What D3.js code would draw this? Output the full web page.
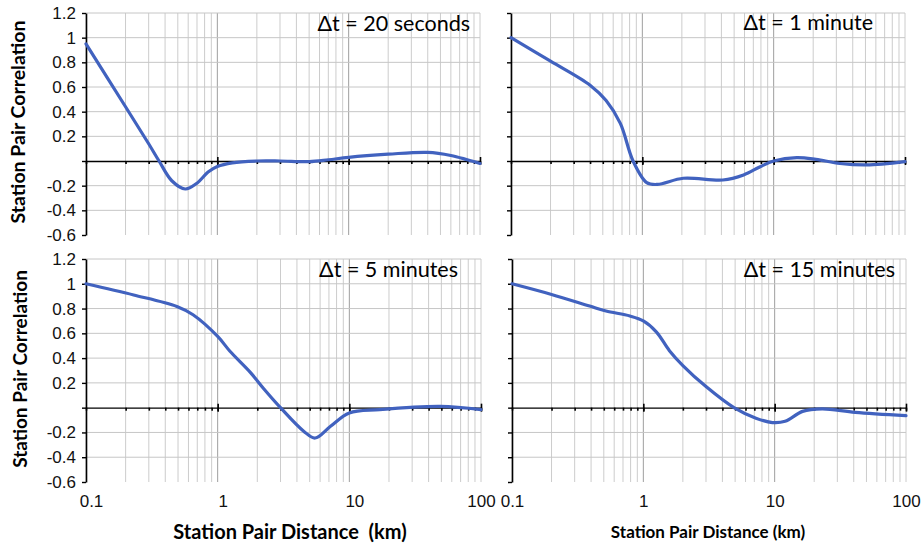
<!DOCTYPE html>
<html>
<head>
<meta charset="utf-8">
<script src="https://cdn.jsdelivr.net/npm/d3@7"></script>
<style>
  body { margin: 0; background: #fff; }
  svg { display: block; font-family: Lato, "Open Sans", sans-serif; }
</style>
</head>
<body>
<svg id="chart" width="922" height="543"></svg>
<script>
// tick values and labels
const X_TICKS = [0.1, 1, 10, 100];
const X_TICK_LABELS = ["0.1", "1", "10", "100"];
const Y_TICKS = [-0.6, -0.4, -0.2, 0, 0.2, 0.4, 0.6, 0.8, 1, 1.2];
const Y_TICK_LABELS = ["-0.6", "-0.4", "-0.2", "", "0.2", "0.4", "0.6", "0.8", "1", "1.2"];
const PANEL_TITLES = ["\u0394t = 20 seconds", "\u0394t = 1 minute", "\u0394t = 5 minutes", "\u0394t = 15 minutes"];

// station pair distance (km) / correlation
const dist20s = [0.1, 0.2, 0.3, 0.36, 0.45, 0.57, 0.7, 0.85, 1, 1.3, 2, 3, 5, 7, 10, 20, 40, 60, 80, 100];
const corr20s = [0.95, 0.44, 0.14, 0, -0.16, -0.227, -0.18, -0.09, -0.045, -0.015, 0, 0, -0.005, 0.01, 0.03, 0.055, 0.07, 0.045, 0.01, -0.02];

const dist1m = [0.1, 0.2, 0.4, 0.53, 0.68, 0.85, 1.08, 1.3, 2.05, 4.1, 5.9, 7.9, 10, 15, 21, 32, 51, 100];
const corr1m = [1.0, 0.81, 0.615, 0.49, 0.305, 0, -0.175, -0.19, -0.14, -0.154, -0.113, -0.046, 0, 0.027, 0.013, -0.02, -0.032, -0.005];

const dist5m = [0.1, 0.23, 0.49, 0.65, 1, 1.24, 1.77, 2.23, 3, 4.5, 5.5, 7.2, 10, 17, 49, 100];
const corr5m = [1.0, 0.91, 0.817, 0.75, 0.575, 0.455, 0.285, 0.155, 0, -0.19, -0.245, -0.15, -0.043, -0.016, 0.01, -0.016];

const dist15m = [0.1, 0.2, 0.39, 0.52, 0.79, 1, 1.26, 1.58, 2, 3, 4.9, 7.2, 9.6, 12, 16.3, 23, 41, 100];
const corr15m = [1.0, 0.914, 0.82, 0.78, 0.74, 0.70, 0.61, 0.46, 0.34, 0.17, 0, -0.085, -0.12, -0.11, -0.03, -0.01, -0.038, -0.065];

const SERIES = [
  [dist20s, corr20s],
  [dist1m, corr1m],
  [dist5m, corr5m],
  [dist15m, corr15m],
];

// panel layout
const PANELS = [
  { x0: 86, x1: 480, y0: 13, y1: 235, titleX: 470, titleY: 31, left: true, bottom: false },
  { x0: 511, x1: 905, y0: 13, y1: 235, titleX: 873, titleY: 30, left: false, bottom: false },
  { x0: 86, x1: 481, y0: 259, y1: 482, titleX: 458, titleY: 277, left: true, bottom: true },
  { x0: 512, x1: 906, y0: 259, y1: 482, titleX: 895, titleY: 277, left: false, bottom: true },
];

const svg = d3.select("#chart");

PANELS.forEach((p, i) => {
  const x = d3.scaleLog().domain([0.1, 100]).range([p.x0, p.x1]);
  const y = d3.scaleLinear().domain([-0.6, 1.2]).range([p.y1, p.y0]);
  const g = svg.append("g");

  // vertical grid (all 1..9 multiples per decade)
  g.append("g")
    .selectAll("line")
    .data(x.ticks())
    .join("line")
    .attr("x1", (d) => x(d))
    .attr("x2", (d) => x(d))
    .attr("y1", p.y0)
    .attr("y2", p.y1)
    .attr("stroke", (d) => (d === 1 || d === 10 ? "#9e9e9e" : "#cccccc"))
    .attr("stroke-width", 1);

  // horizontal grid
  g.append("g")
    .selectAll("line")
    .data(Y_TICKS.filter((d) => d !== 0 && d !== -0.6))
    .join("line")
    .attr("x1", p.x0)
    .attr("x2", p.x1)
    .attr("y1", (d) => y(d))
    .attr("y2", (d) => y(d))
    .attr("stroke", "#c6c6c6")
    .attr("stroke-width", 1);

  // y axis
  const yAxis = g.append("g")
    .attr("transform", `translate(${p.x0},0)`)
    .call(
      d3.axisLeft(y)
        .tickValues(Y_TICKS)
        .tickSize(4)
        .tickSizeOuter(0)
        .tickPadding(6)
        .tickFormat((d, k) => (p.left ? Y_TICK_LABELS[k] : ""))
    );
  yAxis.select(".domain").attr("stroke", "#000").attr("stroke-width", 1.6);
  yAxis.selectAll(".tick line").attr("stroke", "#000").attr("stroke-width", 1.4);
  yAxis.selectAll("text").attr("font-size", 17).attr("fill", "#111");

  // zero line with minor ticks below
  const zero = g.append("g")
    .attr("transform", `translate(0,${y(0)})`)
    .call(d3.axisBottom(x).tickValues(x.ticks()).tickSize(3).tickSizeOuter(0).tickFormat(""));
  zero.select(".domain").attr("stroke", "#000").attr("stroke-width", 1.4);
  zero.selectAll(".tick line").attr("stroke", "#000").attr("stroke-width", 1.6);

  // major ticks crossing the zero line
  const major = g.append("g")
    .attr("transform", `translate(0,${y(0) - 4})`)
    .call(d3.axisBottom(x).tickValues(X_TICKS.slice(1)).tickSize(8).tickFormat(""));
  major.select(".domain").remove();
  major.selectAll(".tick line").attr("stroke", "#000").attr("stroke-width", 1.6);

  // x tick labels (bottom row only)
  if (p.bottom) {
    const xl = g.append("g")
      .attr("transform", `translate(0,${p.y1})`)
      .call(
        d3.axisBottom(x)
          .tickValues(X_TICKS)
          .tickSize(0)
          .tickPadding(13)
          .tickFormat((d, k) => X_TICK_LABELS[k])
      );
    xl.select(".domain").remove();
    xl.selectAll("text").attr("font-size", 17).attr("fill", "#111");
    if (p.left) xl.selectAll(".tick text").filter((d) => d < 100).attr("dx", 5);
  }

  // correlation curve
  const [xs, ys] = SERIES[i];
  const pts = xs.map((d, k) => [d, ys[k]]);
  g.append("path")
    .datum(pts)
    .attr("fill", "none")
    .attr("stroke", "#4162bf")
    .attr("stroke-width", 3.2)
    .attr("stroke-linecap", "round")
    .attr("stroke-linejoin", "round")
    .attr("d", d3.line().x((d) => x(d[0])).y((d) => y(d[1])).curve(d3.curveCatmullRom.alpha(0.5)));

  // panel title
  g.append("text")
    .attr("x", p.titleX)
    .attr("y", p.titleY)
    .attr("text-anchor", "end")
    .attr("font-size", 21.5)
    .attr("fill", "#000")
    .text(PANEL_TITLES[i]);
});

// axis titles
svg.append("text")
  .attr("transform", "translate(25,122) rotate(-90)")
  .attr("text-anchor", "middle")
  .attr("font-size", 19.5)
  .attr("font-weight", "bold")
  .text("Station Pair Correlation");

svg.append("text")
  .attr("transform", "translate(27,369) rotate(-90)")
  .attr("text-anchor", "middle")
  .attr("font-size", 19)
  .attr("font-weight", "bold")
  .text("Station Pair Correlation");

svg.append("text")
  .attr("x", 290)
  .attr("y", 539)
  .attr("text-anchor", "middle")
  .attr("font-size", 20)
  .attr("font-weight", "bold")
  .attr("xml:space", "preserve")
  .text("Station Pair Distance  (km)");

svg.append("text")
  .attr("x", 708)
  .attr("y", 538)
  .attr("text-anchor", "middle")
  .attr("font-size", 17)
  .attr("font-weight", "bold")
  .text("Station Pair Distance (km)");
</script>
</body>
</html>
